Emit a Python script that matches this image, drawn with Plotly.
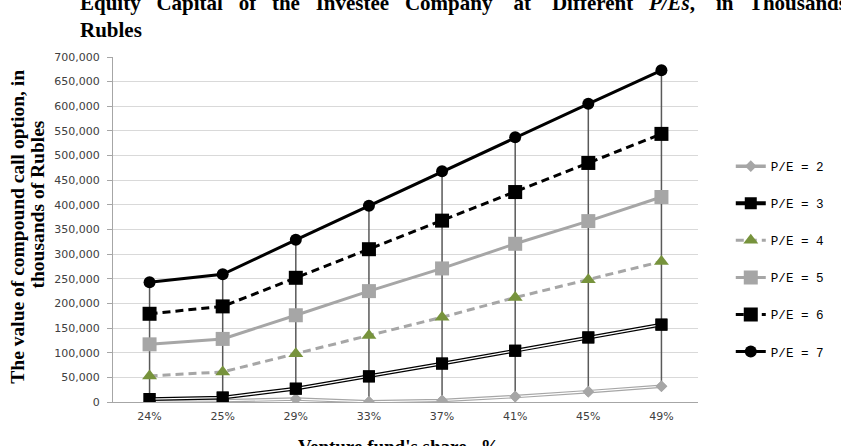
import plotly.graph_objects as go

categories = ["24%", "25%", "29%", "33%", "37%", "41%", "45%", "49%"]
pe2 = [1500, 2500, 6000, 500, 3000, 11000, 21000, 32000]
pe3 = [6000, 9000, 27000, 52000, 78000, 104000, 131000, 157000]
pe4 = [53000, 61000, 98000, 135000, 172000, 212000, 248000, 285000]
pe5 = [117000, 128000, 176000, 225000, 271000, 321000, 367000, 416000]
pe6 = [179000, 194000, 252000, 310000, 368000, 426000, 485000, 544000]
pe7 = [243000, 259000, 329000, 398000, 468000, 537000, 605000, 673000]
series_names = ["P/E = 2", "P/E = 3", "P/E = 4", "P/E = 5", "P/E = 6", "P/E = 7"]
y_ticks = list(range(0, 700001, 50000))

W, H = 841, 446
L, R, T, B = 113, 702, 57, 402

def px_x(p):
    return (p - L) / (R - L)

def px_y(p):
    return (B - p) / (B - T)

all_series = [pe2, pe3, pe4, pe5, pe6, pe7]

fig = go.Figure()

# high-low lines
hx, hy = [], []
for i, c in enumerate(categories):
    vals = [s[i] for s in all_series]
    hx += [c, c, None]
    hy += [min(vals), max(vals), None]
fig.add_trace(go.Scatter(x=hx, y=hy, mode="lines", line=dict(color="#595959", width=1.5),
                         showlegend=False, hoverinfo="skip"))

GRAY = "#a6a6a6"

# P/E = 2 (double gray line)
fig.add_trace(go.Scatter(x=categories, y=pe2, name=series_names[0], legendgroup="g2",
                         mode="lines+markers", line=dict(color=GRAY, width=3.5),
                         marker=dict(symbol="diamond", size=9, color=GRAY)))
fig.add_trace(go.Scatter(x=categories, y=pe2, mode="lines", line=dict(color="white", width=1.2),
                         showlegend=False, legendgroup="g2", hoverinfo="skip"))
fig.add_trace(go.Scatter(x=categories, y=pe2, mode="markers", showlegend=False, legendgroup="g2",
                         marker=dict(symbol="diamond", size=9, color=GRAY)))

# P/E = 3 (double black line)
fig.add_trace(go.Scatter(x=categories, y=pe3, name=series_names[1], legendgroup="g3",
                         mode="lines+markers", line=dict(color="black", width=3.8),
                         marker=dict(symbol="square", size=12, color="black")))
fig.add_trace(go.Scatter(x=categories, y=pe3, mode="lines", line=dict(color="white", width=1.3),
                         showlegend=False, legendgroup="g3", hoverinfo="skip"))
fig.add_trace(go.Scatter(x=categories, y=pe3, mode="markers", showlegend=False, legendgroup="g3",
                         marker=dict(symbol="square", size=12, color="black")))

# P/E = 4
fig.add_trace(go.Scatter(x=categories, y=pe4, name=series_names[2], legendgroup="g4",
                         mode="lines+markers", line=dict(color=GRAY, width=3, dash="8px,5px"),
                         marker=dict(symbol="triangle-up", size=13, color="#77933c")))
# P/E = 5
fig.add_trace(go.Scatter(x=categories, y=pe5, name=series_names[3], legendgroup="g5",
                         mode="lines+markers", line=dict(color=GRAY, width=3),
                         marker=dict(symbol="square", size=14, color=GRAY)))
# P/E = 6
fig.add_trace(go.Scatter(x=categories, y=pe6, name=series_names[4], legendgroup="g6",
                         mode="lines+markers", line=dict(color="black", width=3, dash="8px,5px"),
                         marker=dict(symbol="square", size=14, color="black")))
# P/E = 7
fig.add_trace(go.Scatter(x=categories, y=pe7, name=series_names[5], legendgroup="g7",
                         mode="lines+markers", line=dict(color="black", width=3),
                         marker=dict(symbol="circle", size=12, color="black")))

tick_font = dict(family="DejaVu Sans", size=11, color="#404040")
serif = "Liberation Serif"

title_text = ("<b>Equity   Capital   of   the   Investee   Company    at    Different   "
              "<i>P/Es</i>,    in   Thousands   of<br>Rubles</b>")

fig.update_layout(
    width=W, height=H,
    margin=dict(l=L, r=W - R, t=T, b=H - B, pad=0),
    paper_bgcolor="white", plot_bgcolor="white",
    showlegend=True,
    legend=dict(x=px_x(735), y=px_y(151.5), xanchor="left", yanchor="top",
                font=dict(family="Liberation Mono", size=12.6, color="black"),
                tracegroupgap=17.7, itemwidth=30, bgcolor="rgba(0,0,0,0)",
                traceorder="grouped"),
    xaxis=dict(type="category", categoryorder="array", categoryarray=categories,
               range=[-0.5, len(categories) - 0.5],
               showgrid=False, showline=True, linecolor=GRAY, linewidth=1,
               ticks="", tickfont=tick_font, ticklabelstandoff=4, zeroline=False),
    yaxis=dict(range=[0, 700000], tickvals=y_ticks, tickformat=",",
               showgrid=True, gridcolor="#d9d9d9", gridwidth=1,
               showline=True, linecolor=GRAY, linewidth=1,
               ticks="outside", ticklen=5, tickcolor=GRAY,
               tickfont=tick_font, ticklabelstandoff=5, zeroline=False),
    annotations=[
        dict(text=title_text, align="left",
             xref="paper", yref="paper", x=px_x(78), y=px_y(16.5), xanchor="left", yanchor="middle",
             showarrow=False, font=dict(family=serif, size=21, color="black")),
        dict(text="<b>The value of compound call option, in</b>",
             xref="paper", yref="paper", x=px_x(16), y=px_y(227), xanchor="center", yanchor="middle",
             textangle=-90, showarrow=False, font=dict(family=serif, size=19.5, color="black")),
        dict(text="<b>thousands of Rubles</b>",
             xref="paper", yref="paper", x=px_x(36), y=px_y(205), xanchor="center", yanchor="middle",
             textangle=-90, showarrow=False, font=dict(family=serif, size=19.5, color="black")),
        dict(text="<b>Venture fund's share,  %</b>",
             xref="paper", yref="paper", x=px_x(401), y=px_y(446), xanchor="center", yanchor="middle",
             showarrow=False, font=dict(family=serif, size=19, color="black")),
    ],
)

fig.write_html("out.html")
